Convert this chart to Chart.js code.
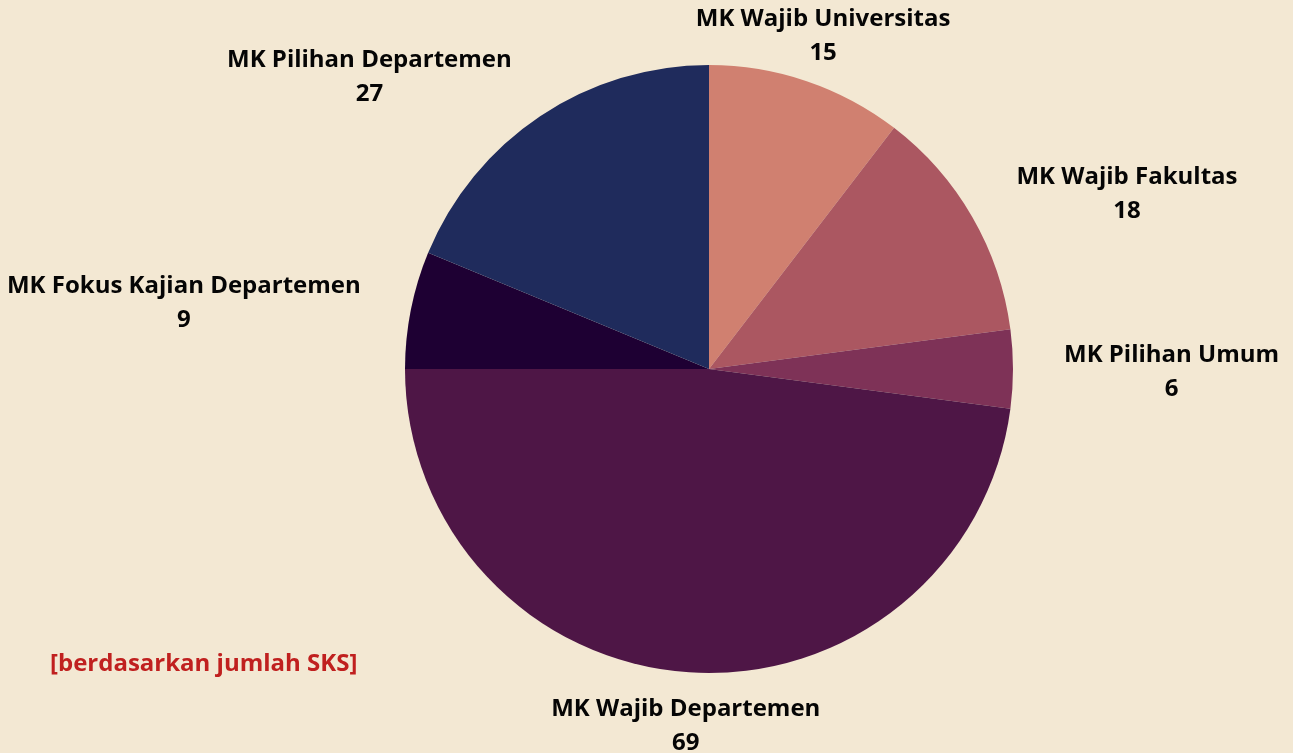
<!DOCTYPE html>
<html>
<head>
<meta charset="utf-8">
<script src="https://cdn.jsdelivr.net/npm/chart.js@4/dist/chart.umd.min.js"></script>
<style>
html,body{margin:0;padding:0;background:#f3e8d3;}
#wrap{width:1293px;height:753px;position:relative;}
</style>
</head>
<body>
<div id="wrap"><canvas id="c" width="1293" height="753"></canvas></div>
<script>
const categories = ["MK Wajib Universitas","MK Wajib Fakultas","MK Pilihan Umum","MK Wajib Departemen","MK Fokus Kajian Departemen","MK Pilihan Departemen"];
const sksValues = [15,18,6,69,9,27];
const sliceColors = ["#d08070","#ab5761","#7e3257","#4e1646","#1e0033","#1f2b5c"];
const noteText = "[berdasarkan jumlah SKS]";

const FONT = "bold 24px 'Open Sans', 'Noto Sans', sans-serif";

const labelPlugin = {
  id: 'outerLabels',
  afterDatasetsDraw(chart){
    const ctx = chart.ctx;
    const meta = chart.getDatasetMeta(0);
    ctx.save();
    ctx.font = FONT;
    ctx.fillStyle = "#050505";
    ctx.textBaseline = "middle";
    meta.data.forEach((arc, i) => {
      const p = arc.getProps(['x','y','startAngle','endAngle','outerRadius'], true);
      const mid = (p.startAngle + p.endAngle)/2;
      const d = p.outerRadius + 51;
      const x = p.x + Math.cos(mid)*d;
      const y = p.y + Math.sin(mid)*d;
      const c = Math.cos(mid);
      let align = 'center';
      if (c > 0.4) align = 'left'; else if (c < -0.4) align = 'right';
      ctx.textAlign = align;
      const lbl = categories[i];
      const val = String(sksValues[i]);
      let vx = x;
      if (align === 'left') vx = x + ctx.measureText(lbl).width/2;
      else if (align === 'right') vx = x - ctx.measureText(lbl).width/2;
      ctx.fillText(lbl, x, y - 14);
      ctx.textAlign = 'center';
      ctx.fillText(val, vx, y + 20);
    });
    ctx.fillStyle = "#c0201f";
    ctx.textAlign = "left";
    ctx.fillText(noteText, 50, 664);
    ctx.restore();
  }
};

new Chart(document.getElementById('c'), {
  type: 'pie',
  data: {
    labels: categories,
    datasets: [{ data: sksValues, backgroundColor: sliceColors, borderWidth: 0 }]
  },
  options: {
    responsive: false,
    animation: false,
    layout: { padding: { left: 405, right: 280, top: 65, bottom: 80 } },
    plugins: { legend: { display: false }, tooltip: { enabled: false } }
  },
  plugins: [labelPlugin]
});
</script>
</body>
</html>
